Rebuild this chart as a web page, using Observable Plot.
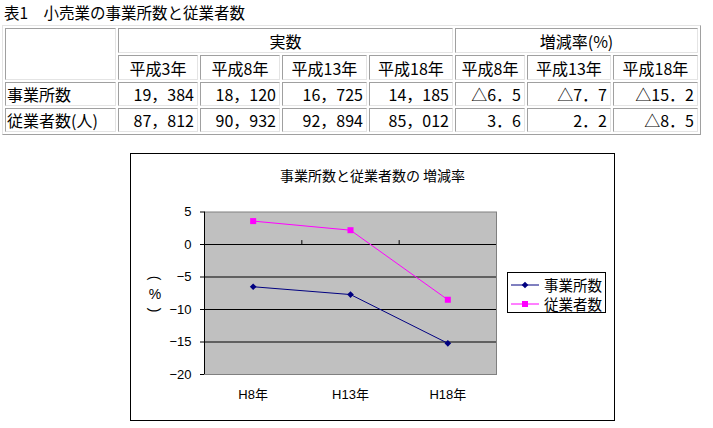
<!DOCTYPE html>
<html><head><meta charset="utf-8">
<script src="https://cdn.jsdelivr.net/npm/d3@7"></script>
<script src="https://cdn.jsdelivr.net/npm/@observablehq/plot@0.6"></script>
<style>
html,body{margin:0;padding:0;background:#fff;}
#page{position:relative;width:713px;height:428px;overflow:hidden;font-family:"Noto Sans CJK JP",sans-serif;color:#000;}
#title{position:absolute;left:4px;top:1px;font-size:15.5px;line-height:22px;white-space:nowrap;}
#t{position:absolute;left:2px;top:25px;border-collapse:separate;border-spacing:2px;border:1px solid;border-color:#e4e4e4 #a0a0a0 #a0a0a0 #e4e4e4;table-layout:fixed;font-size:16px;}
#t td{border:1px solid;border-color:#a0a0a0 #e4e4e4 #e4e4e4 #a0a0a0;padding:0 3px;line-height:20px;white-space:nowrap;overflow:hidden;}
#t td.c{text-align:center;}
#t td.r{text-align:right;}
#t td.l{text-align:left;padding-left:1px;}
#chartbox{position:absolute;left:130px;top:153px;width:485px;height:268px;box-sizing:border-box;border:1px solid #000;}
#ctitle{position:absolute;left:130px;top:165px;width:485px;text-align:center;font-size:14px;line-height:20px;white-space:nowrap;}
#plot{position:absolute;left:130px;top:153px;}
.yl{position:absolute;left:147px;width:16px;height:16px;text-align:center;font-family:"Liberation Sans",sans-serif;font-size:14px;line-height:16px;}
.rot{transform:rotate(90deg);}
#legend{position:absolute;left:507px;top:272px;width:99px;height:41px;box-sizing:border-box;border:1px solid #000;background:#fff;font-size:14.5px;}
.li{position:absolute;left:3px;height:18px;line-height:18px;display:flex;align-items:center;white-space:nowrap;}
.li svg{margin-right:5px;flex:none;}
</style></head>
<body><div id="page">
<div id="title"></div>
<table id="t"></table>
<div id="chartbox"></div>
<div id="plot"></div>
<div id="ctitle"></div>
<div id="ylab"></div>
<div id="legend"></div>
</div>
<script>
// ---- Table data ----
const tableTitle = "表1　小売業の事業所数と従業者数";
const groupHeaders = ["実数", "増減率(%)"];
const actualYears = ["平成3年", "平成8年", "平成13年", "平成18年"];
const rateYears = ["平成8年", "平成13年", "平成18年"];
const rowLabels = ["事業所数", "従業者数(人)"];
const actualEstablishments = [19384, 18120, 16725, 14185];
const actualEmployees = [87812, 90932, 92894, 85012];
const rateEstablishments = [-6.5, -7.7, -15.2];
const rateEmployees = [3.6, 2.2, -8.5];

// ---- Chart data ----
const chartTitle = "事業所数と従業者数の 増減率";
const categories = ["H8年", "H13年", "H18年"];
const seriesNames = ["事業所数", "従業者数"];
const seriesColors = ["#000080", "#ff00ff"];
const seriesSymbols = ["diamond2", "square"];
const yTicks = [5, 0, -5, -10, -15, -20];
const yLabel = ["(", "%", ")"];

// ---- Build table ----
document.getElementById("title").textContent = tableTitle;
const fmtNum = v => d3.format(",")(v).replace(/,/g, "，");
const fmtRate = v => (v < 0 ? "△" : "") + Math.abs(v).toFixed(1).replace(".", "．");
const colWidths = [111, 80, 80, 85, 84, 70, 84, 85];
const t = document.getElementById("t");
const cg = document.createElement("colgroup");
colWidths.forEach(w => { const c = document.createElement("col"); c.style.width = w + "px"; cg.appendChild(c); });
t.appendChild(cg);
function addRow(cells, h) {
  const tr = document.createElement("tr");
  tr.style.height = h + "px";
  cells.forEach(([txt, cls, span]) => {
    const td = document.createElement("td");
    td.textContent = txt; td.className = cls;
    if (span) td.colSpan = span;
    tr.appendChild(td);
  });
  t.appendChild(tr);
}
addRow([["", "c"], [groupHeaders[0], "c", actualYears.length], [groupHeaders[1], "c", rateYears.length]], 25);
addRow([["", "c"], ...actualYears.map(y => [y, "c"]), ...rateYears.map(y => [y, "c"])], 25);
addRow([[rowLabels[0], "l"], ...actualEstablishments.map(v => [fmtNum(v), "r"]), ...rateEstablishments.map(v => [fmtRate(v), "r"])], 24);
addRow([[rowLabels[1], "l"], ...actualEmployees.map(v => [fmtNum(v), "r"]), ...rateEmployees.map(v => [fmtRate(v), "r"])], 24);
t.rows[0].cells[0].rowSpan = 2; t.rows[1].deleteCell(0);

// ---- Chart ----
document.getElementById("ctitle").textContent = chartTitle;
const ylab = document.getElementById("ylab");
yLabel.forEach((s, k) => {
  const d = document.createElement("div");
  d.className = "yl" + (k !== 1 ? " rot" : "");
  d.style.top = (270 + k * 16) + "px";
  d.textContent = s;
  ylab.appendChild(d);
});
const seriesValues = [rateEstablishments, rateEmployees];
const data = seriesNames.flatMap((s, k) => categories.map((c, i) => ({ i, cat: c, series: s, v: seriesValues[k][i] })));
const boundaries = categories.slice(1).map((c, i) => i + 0.5);

const chart = Plot.plot({
  width: 485, height: 268,
  marginLeft: 74, marginRight: 119, marginTop: 58.5, marginBottom: 47,
  style: { fontFamily: "'Liberation Sans', 'Noto Sans CJK JP', sans-serif", fontSize: "13px", background: "transparent", color: "#000" },
  x: { domain: [-0.5, categories.length - 0.5], ticks: categories.map((c, i) => i), tickFormat: i => categories[i], tickSize: 0, tickPadding: 15, label: null },
  y: { domain: [-20, 5], ticks: yTicks, tickSize: 4, tickPadding: 9, label: null, tickFormat: d => d < 0 ? "−" + Math.abs(d) : String(d) },
  color: { domain: seriesNames, range: seriesColors },
  marks: [
    Plot.frame({ fill: "#c0c0c0", stroke: "#808080" }),
    Plot.ruleY(yTicks.filter(v => v < 5 && v > -20), { stroke: "#000" }),
    Plot.ruleX([-0.5], { stroke: "#000" }),
    Plot.ruleX(boundaries, { y1: 0, y2: 0.6, stroke: "#000" }),
    Plot.line(data, { x: "i", y: "v", z: "series", stroke: "series", strokeWidth: 1 }),
    Plot.dot(data.filter(d => d.series === seriesNames[0]), { x: "i", y: "v", symbol: seriesSymbols[0], r: 3, fill: seriesColors[0], stroke: null }),
    Plot.dot(data.filter(d => d.series === seriesNames[1]), { x: "i", y: "v", symbol: seriesSymbols[1], r: 3.4, fill: seriesColors[1], stroke: null })
  ]
});
document.getElementById("plot").appendChild(chart);

// ---- Legend ----
const leg = document.getElementById("legend");
const symPath = (sym, size) => d3.symbol(sym === "square" ? d3.symbolSquare : d3.symbolDiamond2, size)();
seriesNames.forEach((s, k) => {
  const div = document.createElement("div");
  div.className = "li";
  div.style.top = (3 + k * 19) + "px";
  const size = k === 0 ? 28 : 36;
  div.innerHTML = `<svg width="28" height="12"><line x1="0" x2="28" y1="6" y2="6" stroke="${seriesColors[k]}"/><path transform="translate(14,6)" d="${symPath(seriesSymbols[k], size)}" fill="${seriesColors[k]}"/></svg><span>${s}</span>`;
  leg.appendChild(div);
});
</script>
</body></html>
